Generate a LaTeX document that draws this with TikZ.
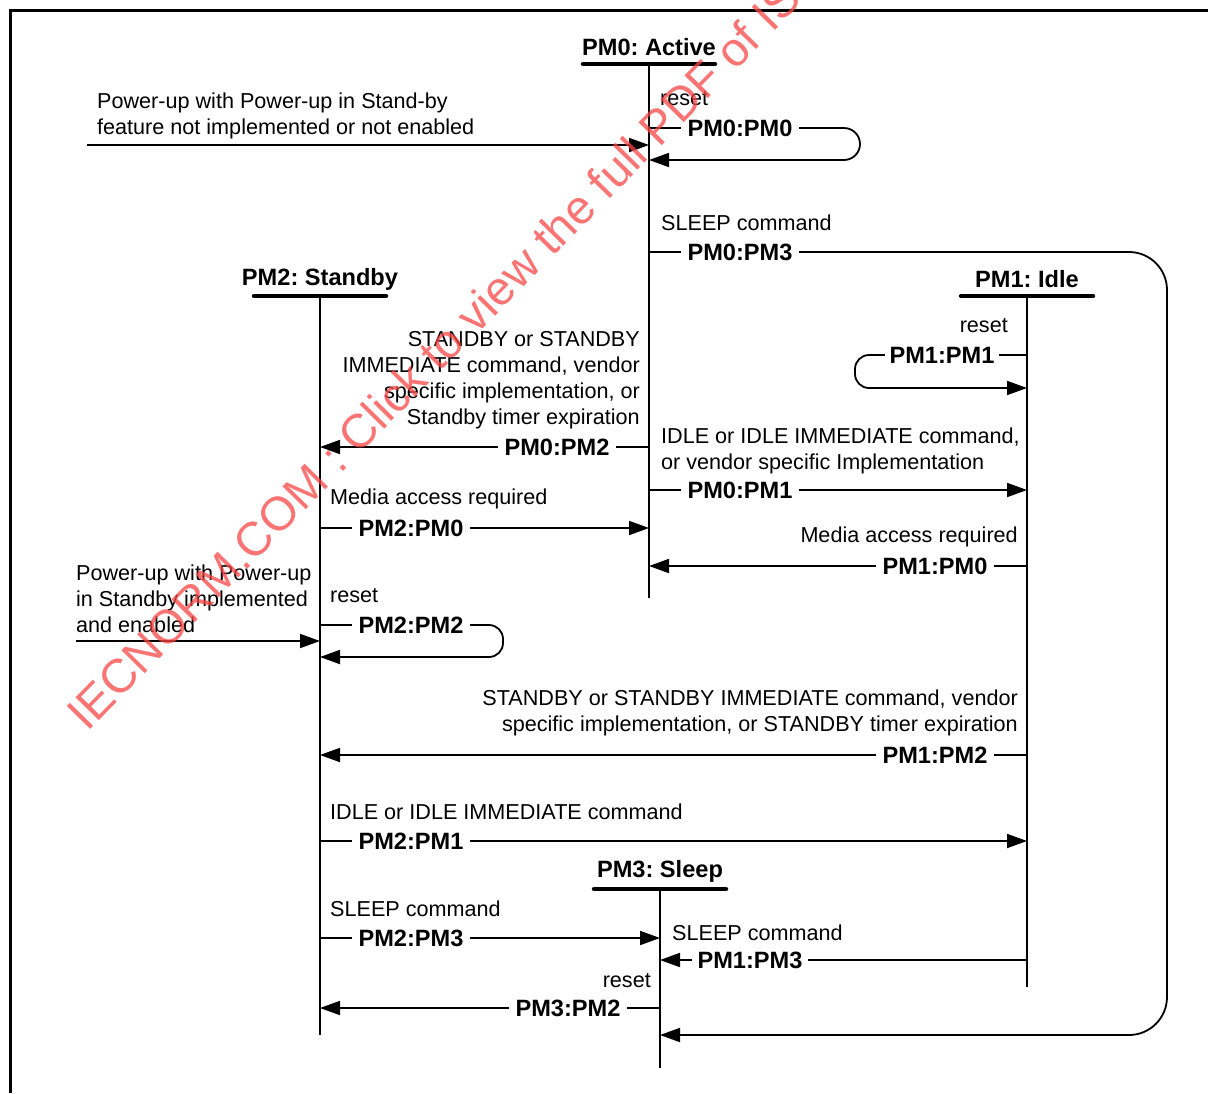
\documentclass[tikz,border=0pt]{standalone}
\usepackage{fontspec}
\setmainfont{Liberation Sans}
\usetikzlibrary{arrows.meta}
\frenchspacing
\begin{document}
\begin{tikzpicture}[x=1pt,y=-1pt,
  every node/.style={inner sep=0pt},
  txt/.style={font=\fontsize{21.6}{26}\selectfont},
  lab/.style={font=\fontsize{23.6}{28}\selectfont\bfseries, fill=white, inner xsep=7pt, inner ysep=2pt},
  hdr/.style={font=\fontsize{23.6}{28}\selectfont\bfseries},
  life/.style={line width=1.8pt},
  uline/.style={line width=4.5pt, line cap=round},
  arr/.style={line width=1.8pt, -{Triangle[length=20pt,width=14pt]}},
  ln/.style={line width=1.8pt},
  wm/.style={font=\fontsize{47.5}{48}\selectfont, text={rgb,255:red,250;green,70;blue,70}, text opacity=0.75}]
\useasboundingbox (0,0) rectangle (1208,1093);
% frame
\draw[line width=3pt] (10,1093) -- (10,10) -- (1208,10);
% lifelines
\coordinate (L0) at (649,64);  \coordinate (L0e) at (649,598);
\coordinate (L2) at (320,296); \coordinate (L2e) at (320,1035);
\coordinate (L1) at (1027,296);\coordinate (L1e) at (1027,987);
\coordinate (L3) at (660,889); \coordinate (L3e) at (660,1068);
\node[hdr] (h0) at (649,47) {PM0: Active};
\node[hdr] (h2) at (320,279) {PM2: Standby};
\node[hdr] (h1) at (1027,279) {PM1: Idle};
\node[hdr] (h3) at (660,871) {PM3: Sleep};
\draw[uline] (583,64) -- (715,64);
\draw[uline] (254,296) -- (386,296);
\draw[uline] (961,296) -- (1093,296);
\draw[uline] (594,889) -- (726,889);
\draw[life] (L0) -- (L0e);
\draw[life] (L2) -- (L2e);
\draw[life] (L1) -- (L1e);
\draw[life] (L3) -- (L3e);
% texts
\node[txt, align=left, anchor=west] (t1) at (97,116) {Power-up with Power-up in Stand-by\\feature not implemented or not enabled};
\node[txt, anchor=west] (t2) at (660,99) {reset};
\node[txt, anchor=west] (t3) at (661,223) {SLEEP command};
\node[txt, align=right, anchor=east] (t4) at (640,380) {STANDBY or STANDBY\\IMMEDIATE command, vendor\\specific implementation, or\\Standby timer expiration};
\node[txt, anchor=east] (t5) at (1008,326) {reset};
\node[txt, align=left, anchor=west] (t6) at (661,451) {IDLE or IDLE IMMEDIATE command,\\or vendor specific Implementation};
\node[txt, anchor=west] (t7) at (330,499) {Media access required};
\node[txt, anchor=east] (t8) at (1018,537) {Media access required};
\node[txt, align=left, anchor=west] (t9) at (76,599) {Power-up with Power-up\\in Standby implemented\\and enabled};
\node[txt, anchor=west] (t10) at (330,596) {reset};
\node[txt, align=right, anchor=east] (t11) at (1018,713) {STANDBY or STANDBY IMMEDIATE command, vendor\\specific implementation, or STANDBY timer expiration};
\node[txt, anchor=west] (t12) at (330,812) {IDLE or IDLE IMMEDIATE command};
\node[txt, anchor=west] (t13) at (330,909) {SLEEP command};
\node[txt, anchor=west] (t14) at (672,933) {SLEEP command};
\node[txt, anchor=east] (t15) at (651,981) {reset};
% free ends
\coordinate (s1) at (87,145);
\coordinate (s2) at (76,641);
% connectors
\draw[arr] (s1) -- (L0 |- s1);
\draw[arr, rounded corners=16pt] (L0 |- 0,128) -- (860,128) -- (860,160) -- (L0 |- 0,160);
\node[lab] (a1) at (740,128) {PM0:PM0};
\draw[arr, rounded corners=38pt] (L0 |- 0,252) -- (1167,252) -- (1167,1035) -- (L3 |- 0,1035);
\node[lab] (a2) at (740,252) {PM0:PM3};
\draw[arr, rounded corners=14pt] (L1 |- 0,355) -- (855,355) -- (855,388) -- (L1 |- 0,388);
\node[lab, inner xsep=5pt] (a3) at (942,355) {PM1:PM1};
\draw[arr] (L0 |- 0,447) -- (L2 |- 0,447);
\node[lab] (a4) at (557,447) {PM0:PM2};
\draw[arr] (L0 |- 0,490) -- (L1 |- 0,490);
\node[lab] (a5) at (740,490) {PM0:PM1};
\draw[arr] (L2 |- 0,528) -- (L0 |- 0,528);
\node[lab] (a6) at (411,528) {PM2:PM0};
\draw[arr] (L1 |- 0,566) -- (L0 |- 0,566);
\node[lab] (a7) at (935,566) {PM1:PM0};
\draw[arr] (s2) -- (L2 |- s2);
\draw[arr, rounded corners=14pt] (L2 |- 0,625) -- (503,625) -- (503,657) -- (L2 |- 0,657);
\node[lab] (a8) at (411,625) {PM2:PM2};
\draw[arr] (L1 |- 0,755) -- (L2 |- 0,755);
\node[lab] (a9) at (935,755) {PM1:PM2};
\draw[arr] (L2 |- 0,841) -- (L1 |- 0,841);
\node[lab] (a10) at (411,841) {PM2:PM1};
\draw[arr] (L2 |- 0,938) -- (L3 |- 0,938);
\node[lab] (a11) at (411,938) {PM2:PM3};
\draw[arr] (L1 |- 0,960) -- (L3 |- 0,960);
\node[lab, inner xsep=6pt] (a12) at (750,960) {PM1:PM3};
\draw[arr] (L3 |- 0,1008) -- (L2 |- 0,1008);
\node[lab] (a13) at (568,1008) {PM3:PM2};
% watermark
\begin{scope}
\clip (0,0) rectangle (1208,1093);
\node[wm, rotate=45.6, anchor=base west] (wmk) at (87,733) {IECNORM.COM : Click to view the full PDF of ISO/IEC 24739};
\end{scope}
\end{tikzpicture}
\end{document}
